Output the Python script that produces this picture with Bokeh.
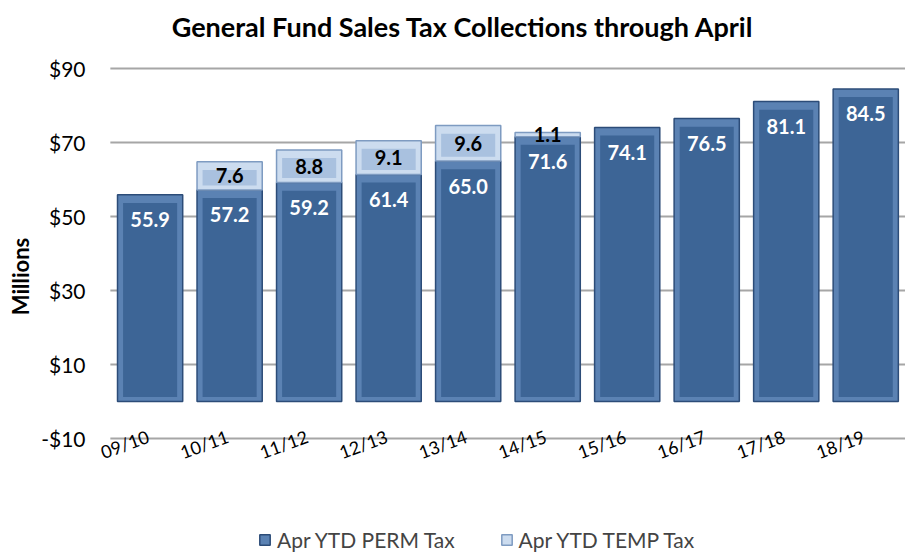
from bokeh.plotting import figure
from bokeh.models import Range1d, FixedTicker, Legend, LegendItem, LabelSet, ColumnDataSource
from bokeh.core.properties import value
from bokeh.embed import file_html
from bokeh.resources import INLINE

years = ["09/10", "10/11", "11/12", "12/13", "13/14", "14/15", "15/16", "16/17", "17/18", "18/19"]
perm = [55.9, 57.2, 59.2, 61.4, 65.0, 71.6, 74.1, 76.5, 81.1, 84.5]
temp = [0, 7.6, 8.8, 9.1, 9.6, 1.1, 0, 0, 0, 0]
y_ticks = [-10, 10, 30, 50, 70, 90]
y_tick_labels = ["-$10", "$10", "$30", "$50", "$70", "$90"]
title_text = "General Fund Sales Tax Collections through April"
series_names = ["Apr YTD PERM Tax", "Apr YTD TEMP Tax"]

FONT = "Lato"
PERM_EDGE = "#5B82B3"
PERM_FILL = "#3D6596"
PERM_LINE = "#2C4C78"
TEMP_EDGE = "#CCDCEF"
TEMP_FILL = "#A9C1DF"
TEMP_LINE = "#7E9BC1"

BAR_W = 0.82
INNER_W = 0.68
TOP_BEVEL = 2.2   # data units
BOT_BEVEL = 1.2

n = len(years)
xc = [i + 0.5 for i in range(n)]   # category band centres on the numeric x scale

p = figure(width=905, height=552, x_range=Range1d(-0.3, n), y_range=Range1d(-40.8, 108.4),
           output_backend="svg", toolbar_location=None,
           min_border_left=86, min_border_right=0, min_border_top=0, min_border_bottom=0)
p.outline_line_color = None
p.xaxis.visible = False
p.xgrid.visible = False
p.ygrid.visible = False

ax = p.yaxis[0]
ax.ticker = FixedTicker(ticks=y_ticks)
ax.major_label_overrides = {t: l for t, l in zip(y_ticks, y_tick_labels)}
ax.axis_line_color = None
ax.major_tick_line_color = None
ax.minor_tick_line_color = None
ax.major_tick_out = 0
ax.major_tick_in = 0
ax.minor_tick_out = 0
ax.minor_tick_in = 0
ax.major_label_text_font = FONT
ax.major_label_text_font_size = "21px"
ax.major_label_text_color = "black"
ax.major_label_standoff = 1
ax.axis_label = "Millions"
ax.axis_label_text_font = FONT
ax.axis_label_text_font_size = "22px"
ax.axis_label_text_font_style = "bold"
ax.axis_label_text_color = "black"
ax.axis_label_standoff = 4

# horizontal gridlines across the category bands
p.segment(x0=[0] * len(y_ticks), x1=[n] * len(y_ticks), y0=y_ticks, y1=y_ticks,
          line_color="#A6A6A6", line_width=2)

# PERM bars: outer (bevel edge) + inner face
r_perm = p.vbar(x=xc, bottom=0, top=perm, width=BAR_W,
                fill_color=PERM_EDGE, line_color=PERM_LINE, line_width=1.5)
p.vbar(x=xc, bottom=BOT_BEVEL, top=[v - TOP_BEVEL for v in perm], width=INNER_W,
       fill_color=PERM_FILL, line_color=None)

# TEMP bars (only where present)
t_x = [c for c, t in zip(xc, temp) if t > 0]
t_bot = [pv for pv, t in zip(perm, temp) if t > 0]
t_top = [pv + t for pv, t in zip(perm, temp) if t > 0]
t_val = [t for t in temp if t > 0]
r_temp = p.vbar(x=t_x, bottom=t_bot, top=t_top, width=BAR_W,
                fill_color=TEMP_EDGE, line_color=TEMP_LINE, line_width=1.5)
ti = [i for i, t in enumerate(t_val) if t > 2 * TOP_BEVEL]
p.vbar(x=[t_x[i] for i in ti], bottom=[t_bot[i] + BOT_BEVEL for i in ti],
       top=[t_top[i] - TOP_BEVEL for i in ti], width=INNER_W,
       fill_color=TEMP_FILL, line_color=None)

# value labels
p.text(x=xc, y=perm, text=[f"{v:.1f}" for v in perm], y_offset=25,
       text_align="center", text_baseline="middle", text_color="white",
       text_font=value(FONT), text_font_style="bold", text_font_size="20px")
p.text(x=t_x, y=[(b + t) / 2 for b, t in zip(t_bot, t_top)], text=[f"{v:.1f}" for v in t_val],
       text_align="center", text_baseline="middle", text_color="black",
       text_font=value(FONT), text_font_style="bold", text_font_size="20px")

# category labels (rotated)
cat_src = ColumnDataSource(data=dict(x=xc, y=[y_ticks[0]] * n, text=years))
p.add_layout(LabelSet(x="x", y="y", text="text", source=cat_src, angle=0.35,
                      x_offset=-2, y_offset=3, text_align="right", text_baseline="middle",
                      text_color="black", text_font=value(FONT), text_font_size="18px"))

# title
p.text(x=[n / 2], y=[101.3], text=[title_text], x_offset=-45,
       text_align="center", text_baseline="middle", text_color="black",
       text_font=value(FONT), text_font_style="bold", text_font_size="27px")

legend = Legend(items=[LegendItem(label=series_names[0], renderers=[r_perm]),
                       LegendItem(label=series_names[1], renderers=[r_temp])],
                location=(172, 0), orientation="horizontal",
                border_line_color=None, background_fill_alpha=0,
                label_text_font=FONT, label_text_font_size="21px",
                glyph_width=13, glyph_height=13, spacing=45, padding=4, margin=0,
                label_standoff=6)
p.add_layout(legend, "center")

open("out.html", "w").write(file_html(p, INLINE))
